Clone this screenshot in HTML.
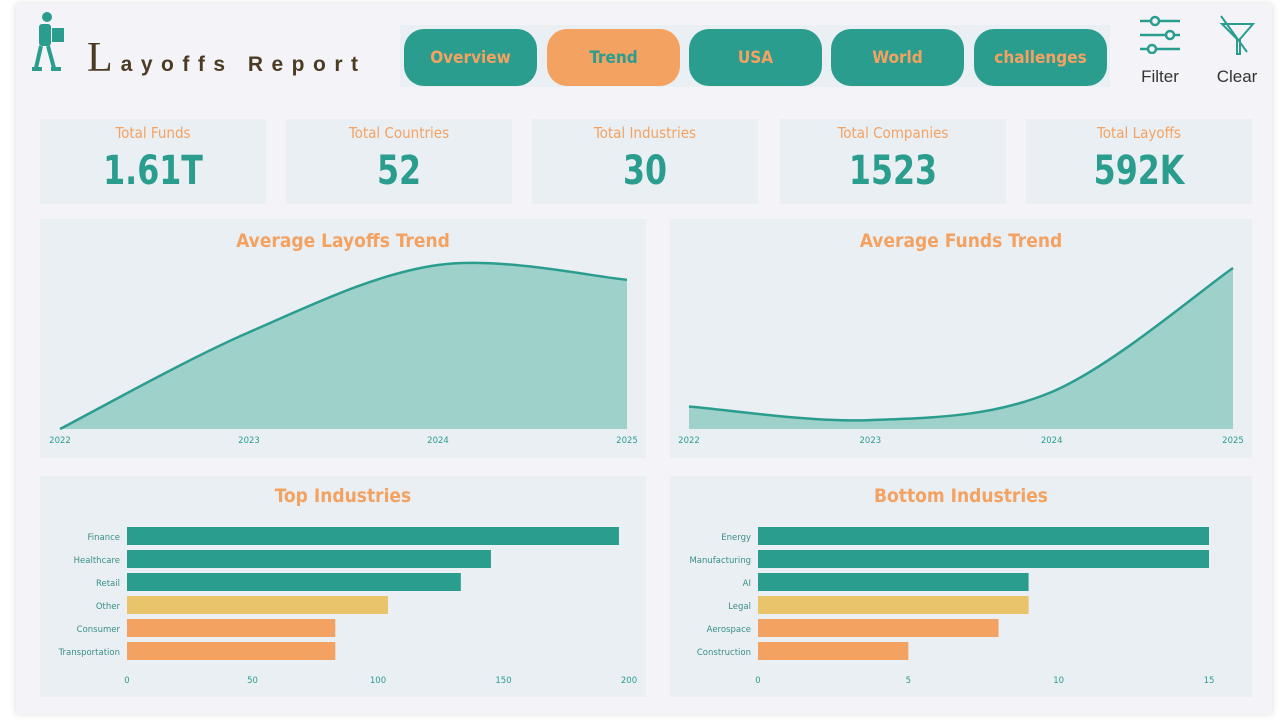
<!DOCTYPE html>
<html><head><meta charset="utf-8"><style>
*{margin:0;padding:0;box-sizing:border-box}
body{width:1288px;height:722px;background:#fff;font-family:"Liberation Sans",sans-serif;position:relative;overflow:hidden}
.abs{position:absolute}
#frame{left:16px;top:4px;width:1256px;height:710px;background:#f4f4f8;box-shadow:0 0 6px rgba(0,0,0,.15)}
.nav{background:#eaeff3;left:400px;top:25px;width:710px;height:62px}
.btn{top:29px;width:133px;height:57px;border-radius:20px;background:#2a9d8f;color:#f4a261;font:bold 17px "DejaVu Sans Condensed","Liberation Sans",sans-serif;display:flex;align-items:center;justify-content:center}
.btn.on{background:#f4a261;color:#2a9d8f}
.card{background:#eaeff3;top:119px;width:226px;height:85px;text-align:center}
.card .t{color:#f4a261;font:15px "DejaVu Sans Condensed","Liberation Sans",sans-serif;margin-top:5px}
.card .v{color:#2a9d8f;font:bold 40px "DejaVu Sans Condensed","Liberation Sans",sans-serif;margin-top:6px;transform:scaleX(0.88)}
.panel{background:#eaeff3}
.ptitle{position:absolute;left:0;right:0;text-align:center;color:#f4a261;font:bold 19px "DejaVu Sans Condensed","Liberation Sans",sans-serif;top:11px}
svg text{font-family:"DejaVu Sans","Liberation Sans",sans-serif}
</style></head><body>
<div id="frame" class="abs"></div>
<svg class="abs" style="left:30px;top:8px" width="40" height="66" viewBox="0 0 40 66">
<circle cx="17" cy="9" r="5" fill="#2a9d8f"/><rect x="9" y="16" width="12" height="22" rx="3" fill="#2a9d8f"/><rect x="22" y="20" width="12" height="14" fill="#2a9d8f"/><path d="M11 38 L6 60 M18 38 L24 60" stroke="#2a9d8f" stroke-width="4"/><rect x="2" y="59" width="10" height="4" fill="#2a9d8f"/><rect x="21" y="59" width="10" height="4" fill="#2a9d8f"/></svg>
<div class="abs" style="left:87px;top:34px;font-family:'Liberation Serif',serif;color:#4a3b22;white-space:nowrap"><span style="font-size:42px">L</span><span style="font:bold 21px 'Liberation Sans',sans-serif;letter-spacing:8.5px;margin-left:8px">ayoffs Report</span></div>
<div class="abs nav"></div>
<div class="abs btn" style="left:404px">Overview</div>
<div class="abs btn on" style="left:547px">Trend</div>
<div class="abs btn" style="left:689px">USA</div>
<div class="abs btn" style="left:831px">World</div>
<div class="abs btn" style="left:974px">challenges</div>
<div class="abs" style="left:1136px;top:14px;width:48px;text-align:center">
<svg width="44" height="40" viewBox="0 0 44 40"><g stroke="#2a9d8f" stroke-width="2.5" fill="none"><path d="M2 7H13M21 7H42M2 21H28M36 21H42M2 35H10M18 35H42"/><circle cx="17" cy="7" r="4"/><circle cx="32" cy="21" r="4"/><circle cx="14" cy="35" r="4"/></g></svg>
<div style="font-size:17px;color:#333;margin-top:8px">Filter</div></div>
<div class="abs" style="left:1212px;top:14px;width:50px;text-align:center">
<svg width="40" height="42" viewBox="0 0 40 42"><g stroke="#2a9d8f" stroke-width="2" fill="none"><path d="M5 10H36L23 25V40H20V25Z"/><path d="M4 2L30 38"/></g></svg>
<div style="font-size:17px;color:#333;margin-top:6px">Clear</div></div>

<div class="abs card" style="left:40px"><div class="t">Total Funds</div><div class="v">1.61T</div></div>
<div class="abs card" style="left:286px"><div class="t">Total Countries</div><div class="v">52</div></div>
<div class="abs card" style="left:532px"><div class="t">Total Industries</div><div class="v">30</div></div>
<div class="abs card" style="left:780px"><div class="t">Total Companies</div><div class="v">1523</div></div>
<div class="abs card" style="left:1026px"><div class="t">Total Layoffs</div><div class="v">592K</div></div>

<div class="abs panel" style="left:40px;top:219px;width:606px;height:239px"><div class="ptitle">Average Layoffs Trend</div><svg id="c1" width="606" height="239" style="position:absolute;left:0;top:0"></svg></div>
<div class="abs panel" style="left:670px;top:219px;width:582px;height:239px"><div class="ptitle">Average Funds Trend</div><svg id="c2" width="582" height="239" style="position:absolute;left:0;top:0"></svg></div>
<div class="abs panel" style="left:40px;top:476px;width:606px;height:221px"><div class="ptitle" style="top:9px">Top Industries</div><svg id="c3" width="606" height="221" style="position:absolute;left:0;top:0;overflow:visible"></svg></div>
<div class="abs panel" style="left:670px;top:476px;width:582px;height:221px"><div class="ptitle" style="top:9px">Bottom Industries</div><svg id="c4" width="582" height="221" style="position:absolute;left:0;top:0"></svg></div>

<script>
const years=["2022","2023","2024","2025"];
const layoffsAvg=[0,590,1000,910];
const fundsAvg=[1.4,0.55,2.3,10];
const topCats=["Finance","Healthcare","Retail","Other","Consumer","Transportation"];
const topVals=[196,145,133,104,83,83];
const topTicks=[0,50,100,150,200];
const botCats=["Energy","Manufacturing","AI","Legal","Aerospace","Construction"];
const botVals=[15,15,9,9,8,5];
const botTicks=[0,5,10,15];
const barColors=["#2a9d8f","#2a9d8f","#2a9d8f","#e9c46a","#f4a261","#f4a261"];
const NS="http://www.w3.org/2000/svg";
function mk(p,t,a){const e=document.createElementNS(NS,t);for(const k in a)e.setAttribute(k,a[k]);p.appendChild(e);return e;}
function area(id,vals,x0,x1,base,top,maxV){
 const s=document.getElementById(id);
 const X=i=>x0+(x1-x0)*i/(vals.length-1), Y=v=>base-(base-top)*v/maxV;
 const P=vals.map((v,i)=>[X(i),Y(v)]);
 let d="M"+P[0][0]+","+P[0][1];
 for(let i=0;i<P.length-1;i++){const p0=P[Math.max(0,i-1)],p1=P[i],p2=P[i+1],p3=P[Math.min(P.length-1,i+2)];
  d+=" C"+(p1[0]+(p2[0]-p0[0])/6)+","+(p1[1]+(p2[1]-p0[1])/6)+" "+(p2[0]-(p3[0]-p1[0])/6)+","+(p2[1]-(p3[1]-p1[1])/6)+" "+p2[0]+","+p2[1];}
 const a=mk(s,"path",{d:d+" L"+x1+","+base+" L"+x0+","+base+"Z",fill:"#9fd1cb"});
 
 
 const l=mk(s,"path",{d:d,fill:"none",stroke:"#2a9d8f","stroke-width":2.5});
 
 
 years.forEach((y,i)=>{const t=mk(s,"text",{x:X(i),y:base+14,"font-size":8.5,fill:"#2a9d8f","text-anchor":"middle"});t.textContent=y;
  
  });
}
area("c1",layoffsAvg,20,587,210,46,1000);
area("c2",fundsAvg,19,563,210,49,10);
function bars(id,cats,vals,ticks,x0,x1,maxV){
 const s=document.getElementById(id);const X=v=>x0+(x1-x0)*v/maxV;
 cats.forEach((c,i)=>{const y=51+i*23;
  const r=mk(s,"rect",{x:x0,y:y,width:X(vals[i])-x0,height:18,fill:barColors[i]});
  
  
  const t=mk(s,"text",{x:x0-7,y:y+13,"font-size":8.5,fill:"#3a8f86","text-anchor":"end"});t.textContent=c;
  
  });
 ticks.forEach(v=>{const t=mk(s,"text",{x:X(v),y:207,"font-size":8.5,fill:"#2a9d8f","text-anchor":"middle"});t.textContent=v;
  
  });
}
bars("c3",topCats,topVals,topTicks,87,589,200);
bars("c4",botCats,botVals,botTicks,88,539,15);
</script>
</body></html>
